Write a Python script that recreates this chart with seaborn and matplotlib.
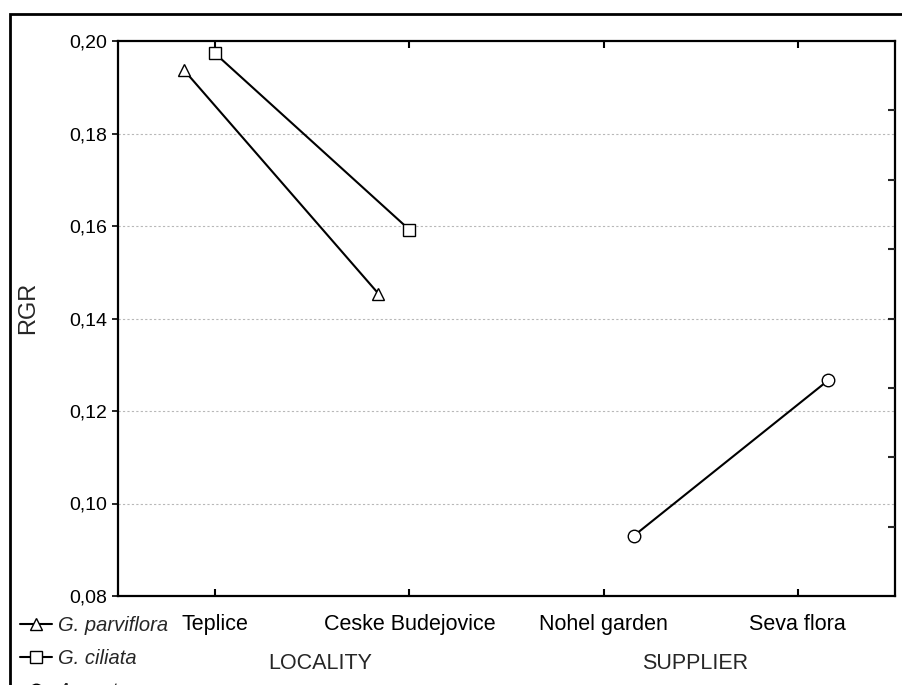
import matplotlib
matplotlib.use("Agg")
import matplotlib.pyplot as plt
from matplotlib.patches import Rectangle
from matplotlib.ticker import FuncFormatter
import numpy as np
import pandas as pd
import seaborn as sns

# Mean relative growth rate per group
categories = ["Teplice", "Ceske Budejovice", "Nohel garden", "Seva flora"]
species = ["G. parviflora", "G. ciliata", "Ageratum"]
parviflora_cat = ["Teplice", "Ceske Budejovice"]
parviflora_rgr = [0.1937, 0.1454]
ciliata_cat = ["Teplice", "Ceske Budejovice"]
ciliata_rgr = [0.1973, 0.1592]
ageratum_cat = ["Nohel garden", "Seva flora"]
ageratum_rgr = [0.0930, 0.1266]
group_titles = ["LOCALITY", "SUPPLIER"]

sns.set_theme(style="white")
plt.rcParams["font.family"] = ["Liberation Sans", "DejaVu Sans"]

rows = []
for sp, cats, vals in [(species[0], parviflora_cat, parviflora_rgr),
                       (species[1], ciliata_cat, ciliata_rgr),
                       (species[2], ageratum_cat, ageratum_rgr)]:
    for c, v in zip(cats, vals):
        rows.append({"species": sp, "category": c, "RGR": v})
df = pd.DataFrame(rows)

# small horizontal dodge so the series don't sit on top of each other
dodge = {species[0]: -0.16, species[1]: 0.0, species[2]: 0.155}
df["x"] = df["category"].map({c: i for i, c in enumerate(categories)}) + df["species"].map(dodge)

fig = plt.figure(figsize=(9.03, 6.85), dpi=100)
ax = fig.add_axes([118 / 903, 1 - 596 / 685, (895 - 118) / 903, (596 - 41) / 685])

sns.lineplot(data=df, x="x", y="RGR", hue="species", style="species",
             palette={s: "black" for s in species},
             markers={species[0]: "^", species[1]: "s", species[2]: "o"},
             dashes=False, markersize=9, markerfacecolor="white",
             markeredgecolor="black", markeredgewidth=1.0, linewidth=1.5,
             ax=ax, legend=True)

ax.set_xlim(-0.5, 3.5)
ax.set_ylim(0.08, 0.20)
yt = np.round(np.arange(0.08, 0.2001, 0.02), 2)
ax.set_yticks(yt)
ax.yaxis.set_major_formatter(FuncFormatter(lambda v, p: f"{v:.2f}".replace(".", ",")))
ax.set_xticks(range(len(categories)))
ax.set_xticklabels(categories)
ax.set_xlabel("")
ax.set_ylabel("RGR", fontsize=17)
ax.yaxis.set_label_coords(-0.101, 0.52)

for gy in yt[1:-1]:
    ax.axhline(gy, color="#b8b8b8", lw=0.8, ls=(0, (2, 2)), zorder=0)

ax.tick_params(axis="x", direction="in", length=5, width=1.5, top=True,
               bottom=True, labelsize=15.5, pad=13, colors="black")
ax.tick_params(axis="y", direction="out", length=4, width=1.2, left=True,
               right=False, labelsize=14, pad=3.5, colors="black")

for side in ["left", "bottom", "right", "top"]:
    ax.spines[side].set_visible(True)
    ax.spines[side].set_color("black")
    ax.spines[side].set_linewidth(1.6)

# right-hand axis with its own unlabelled scale
ax2 = ax.twinx()
ax2.set_ylim(0, 8)
ax2.set_yticks(range(1, 8))
ax2.tick_params(axis="y", direction="in", length=5, width=1.5, labelright=False)
ax2.grid(False)
for s in ax2.spines.values():
    s.set_visible(False)

# group titles under the category labels
for xpos, title in zip([0.54, 2.47], group_titles):
    ax.text(xpos, -0.121, title, transform=ax.get_xaxis_transform(),
            ha="center", va="center", fontsize=15.5)

handles, labels = ax.get_legend_handles_labels()
ax.get_legend().remove()
leg = fig.legend(handles, labels, loc="upper left",
                 bbox_to_anchor=(20 / 903, 1 - 616 / 685),
                 frameon=False, prop={"style": "italic", "size": 14.5},
                 handlelength=1.6, handletextpad=0.3, labelspacing=0.7,
                 borderpad=0, borderaxespad=0)

# outer frame around the whole graph
fig.add_artist(Rectangle((10 / 903, -0.2), 2.0, 1.2 - 14 / 685,
                         transform=fig.transFigure, fill=False,
                         edgecolor="black", linewidth=2.0, clip_on=False))

fig.savefig("out.png", dpi=100)
